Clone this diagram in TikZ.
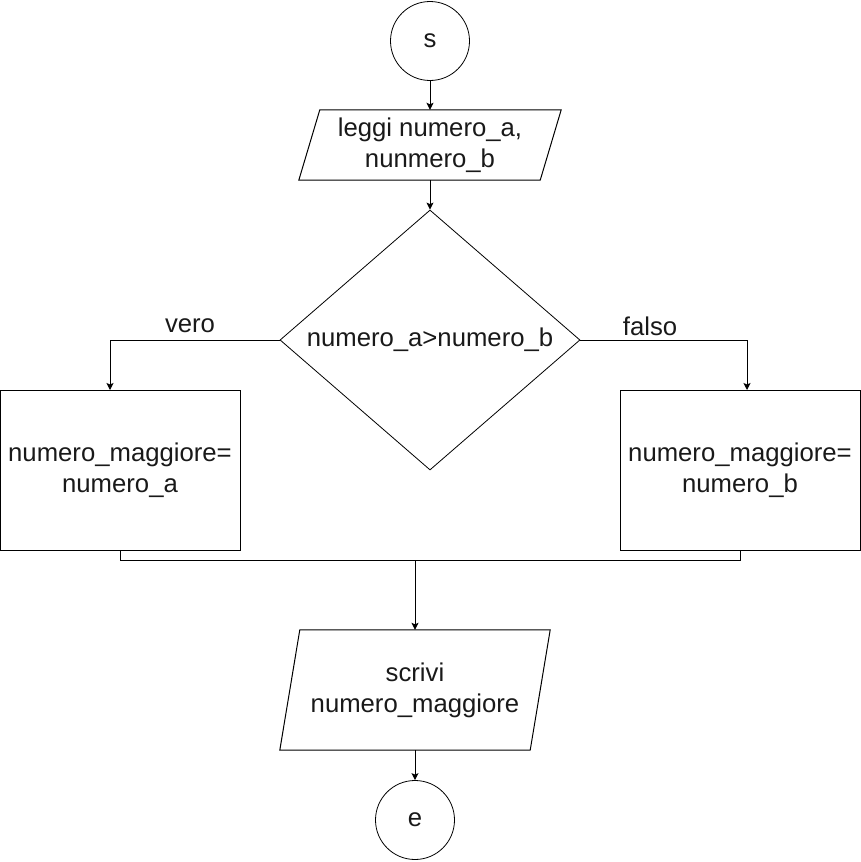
\documentclass[tikz,border=0pt]{standalone}
\usepackage{fontspec}
\setmainfont{Liberation Sans}
\usetikzlibrary{arrows.meta,shapes.geometric,calc}
\begin{document}
\begin{tikzpicture}[x=1pt,y=-1pt,
  every node/.style={font=\fontsize{25.7}{31}\selectfont, text=black!90},
  line/.style={line width=1pt, draw=black},
  arr/.style={line, -{Stealth[length=7pt,width=7pt,inset=1.5pt]}},
  term/.style={circle, draw, line width=0.8pt, minimum size=79pt, inner sep=0pt},
  iobox/.style={rectangle, minimum height=#1, inner sep=0pt, align=center},
  procbox/.style={rectangle, draw, line width=1pt, minimum width=240pt, minimum height=160pt, inner sep=0pt, align=center},
  decision/.style={diamond, draw, line width=0.8pt, minimum width=300pt, minimum height=260pt, inner sep=0pt},
  lbl/.style={inner sep=0pt}
]
\useasboundingbox (0,0) rectangle (861,862);

% start
\node[term] (s) at (430,41) {s};

% input
\node[iobox=70pt, minimum width=241pt] (in1) at (430,145) {leggi numero\_a,\\nunmero\_b};
\draw[line] ($(in1.north west)+(10.5,0)$) -- ($(in1.north east)+(10.5,0)$)
  -- ($(in1.south east)+(-10.5,0)$) -- ($(in1.south west)+(-10.5,0)$) -- cycle;

% decision
\node[decision] (d) at (430,340) {};
\node[lbl] (dt) at (d.center) {numero\_a>numero\_b};

% process boxes
\node[procbox] (L) at (120,470) {numero\_maggiore=\\numero\_a};
\node[procbox] (R) at (740,470) {numero\_maggiore=\\numero\_b};

% output
\node[iobox=120pt, minimum width=250pt] (out) at (415,690) {scrivi\\numero\_maggiore};
\draw[line] ($(out.north west)+(10,0)$) -- ($(out.north east)+(10,0)$)
  -- ($(out.south east)+(-10,0)$) -- ($(out.south west)+(-10,0)$) -- cycle;

% end
\node[term] (e) at (415,820) {e};

% connectors
\draw[arr] (s.south) -- (in1.north);
\draw[arr] (in1.south) -- (d.north);
\coordinate (Lin) at (110,390);
\coordinate (Rin) at (747,390);
\draw[arr] (d.west) -| (Lin);
\draw[arr] (d.east) -| (Rin);
\node[lbl] (vero) at (190,326) {vero};
\node[lbl] (falso) at (650,326) {falso};
\coordinate (m) at (415,560);
\draw[line] (L.south) -- ++(0,10) -| (R.south);
\draw[arr] (m) -- (out.north);
\draw[arr] (out.south) -- (e.north);
\end{tikzpicture}
\end{document}
